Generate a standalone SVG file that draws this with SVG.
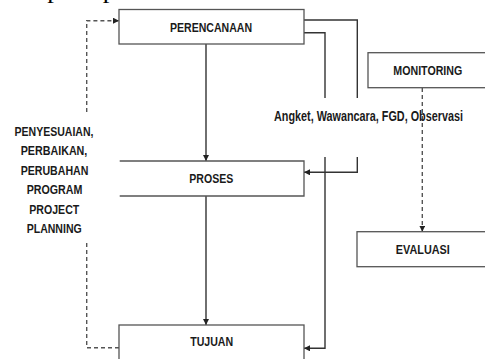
<svg xmlns="http://www.w3.org/2000/svg" width="485" height="359" viewBox="0 0 485 359">
<defs>
<style>
.box{fill:#fff;stroke:#555;stroke-width:1.3}
.edge{fill:none;stroke:#333;stroke-width:1.4}
.dash{fill:none;stroke:#555;stroke-width:1.4;stroke-dasharray:4 3}
.lbl{font-family:"Liberation Sans",Arial,sans-serif;font-weight:bold;font-size:13.5px;fill:#1a1a1a;text-anchor:middle}
.cap{font-family:"Liberation Serif","Times New Roman",serif;font-size:16px;fill:#000}
</style>
<marker id="arr" viewBox="0 0 10 10" refX="10" refY="5" markerWidth="6" markerHeight="6" markerUnits="userSpaceOnUse" orient="auto">
<path d="M0,0 L10,5 L0,10 z" fill="#222"/>
</marker>
</defs>
<rect width="485" height="359" fill="#fff"/>
<text class="cap" x="25" y="-1.5" textLength="365" lengthAdjust="spacingAndGlyphs">seperti pada Gambar 1 berikut ini:</text>

<g id="connectors">
<line class="edge" x1="206" y1="44" x2="206" y2="161" marker-end="url(#arr)"/>
<line class="edge" x1="206" y1="196" x2="206" y2="325" marker-end="url(#arr)"/>
<polyline class="edge" points="304,20 357.3,20 357.3,98"/>
<polyline class="edge" points="357.3,157 357.3,172.3 304,172.3" marker-end="url(#arr)"/>
<polyline class="edge" points="304,32.7 325,32.7 325,98"/>
<polyline class="edge" points="325,157 325,348.3 304,348.3" marker-end="url(#arr)"/>
<polyline class="dash" points="119,347.7 86.7,347.7 86.7,242"/>
<polyline class="dash" points="86.7,112 86.7,20.7 119,20.7" marker-end="url(#arr)"/>
<line class="dash" x1="422.3" y1="88" x2="422.3" y2="231.7" marker-end="url(#arr)"/>
</g>

<g id="label-metode">
<text class="lbl" x="368.5" y="121" textLength="189" lengthAdjust="spacingAndGlyphs" style="font-size:14px">Angket, Wawancara, FGD, Observasi</text>
</g>

<g id="label-penyesuaian">
<text class="lbl" x="54" y="135.7" textLength="79" lengthAdjust="spacingAndGlyphs">PENYESUAIAN,</text>
<text class="lbl" x="54" y="155" textLength="66.7" lengthAdjust="spacingAndGlyphs">PERBAIKAN,</text>
<text class="lbl" x="54.5" y="174.5" textLength="67.7" lengthAdjust="spacingAndGlyphs">PERUBAHAN</text>
<text class="lbl" x="54.5" y="194" textLength="55.7" lengthAdjust="spacingAndGlyphs">PROGRAM</text>
<text class="lbl" x="54.3" y="213.5" textLength="50" lengthAdjust="spacingAndGlyphs">PROJECT</text>
<text class="lbl" x="54.2" y="233" textLength="55" lengthAdjust="spacingAndGlyphs">PLANNING</text>
</g>

<g id="perencanaan">
<rect class="box" x="119" y="9.5" width="185" height="34.5"/>
<text class="lbl" x="211" y="32.2" textLength="82" lengthAdjust="spacingAndGlyphs">PERENCANAAN</text>
</g>

<g id="proses">
<path class="box" d="M119.7,161 H304 V196 H119.7"/>
<text class="lbl" x="211.3" y="182.7" textLength="44" lengthAdjust="spacingAndGlyphs">PROSES</text>
</g>

<g id="tujuan">
<rect class="box" x="119" y="325" width="185" height="40"/>
<text class="lbl" x="211.7" y="345.5" textLength="43" lengthAdjust="spacingAndGlyphs">TUJUAN</text>
</g>

<g id="monitoring">
<rect class="box" x="368" y="52.7" width="125" height="35"/>
<text class="lbl" x="427.8" y="75" textLength="69" lengthAdjust="spacingAndGlyphs">MONITORING</text>
</g>

<g id="evaluasi">
<rect class="box" x="357" y="231.7" width="135" height="35"/>
<text class="lbl" x="422.8" y="254" textLength="54" lengthAdjust="spacingAndGlyphs">EVALUASI</text>
</g>
</svg>
